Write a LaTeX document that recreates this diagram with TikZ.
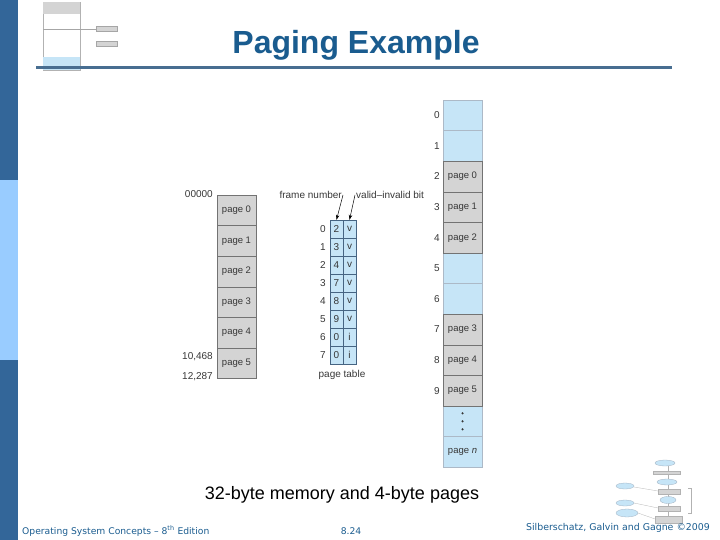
\documentclass[tikz,border=0pt]{standalone}
\usepackage{fontspec}
\setmainfont{Liberation Sans}
\newfontfamily\footfont{DejaVu Sans}
\usetikzlibrary{arrows.meta}
\definecolor{slideblue}{RGB}{51,102,153}
\definecolor{barlight}{RGB}{153,204,255}
\definecolor{titleblue}{RGB}{26,92,143}
\definecolor{rulecol}{RGB}{72,110,145}
\definecolor{cellblue}{RGB}{198,229,247}
\definecolor{cellgray}{RGB}{212,212,212}
\definecolor{edgegray}{RGB}{115,115,115}
\definecolor{edgeblue}{RGB}{70,100,130}
\definecolor{labelgray}{RGB}{55,55,55}
\begin{document}
\begin{tikzpicture}[x=1pt,y=-1pt,
  lbl/.style={font=\fontsize{10}{11}\selectfont, text=labelgray, inner sep=1pt},
  pagecell/.style={draw=edgegray, fill=cellgray, minimum width=39pt, minimum height=30.6pt, inner sep=0pt, font=\fontsize{9.5}{10}\selectfont, text=labelgray},
  freecell/.style={pagecell, fill=cellblue, draw=edgeblue!45},
  ptcell/.style={draw=edgeblue, fill=cellblue, minimum width=13pt, minimum height=18pt, inner sep=0pt, font=\fontsize{10}{11}\selectfont, text=labelgray},
  foot/.style={font=\footfont\fontsize{9.2}{10}\selectfont, text=titleblue, inner sep=0pt}
]
\useasboundingbox (0,0) rectangle (720,540);
% slide frame
\fill[slideblue] (0,0) rectangle (18,180);
\fill[barlight] (0,180) rectangle (18,360);
\fill[slideblue] (0,360) rectangle (18,540);
% thumbnail, top left
\draw[gray!60, line width=0.4pt] (43,2) rectangle (80,70);
\fill[cellgray] (43.2,2.2) rectangle (79.8,14);
\fill[cellblue] (43.2,57) rectangle (79.8,69.8);
\draw[gray!70, line width=0.4pt] (43,29) -- (96,29);
\filldraw[fill=cellgray, draw=gray!70, line width=0.3pt] (96,26) rectangle (117,31);
\filldraw[fill=cellgray, draw=gray!70, line width=0.3pt] (96,41) rectangle (117,46);
% title
\node[font=\bfseries\fontsize{32}{34}\selectfont, text=titleblue] (title) at (356,45) {Paging Example};
\draw[rulecol, line width=3pt] (36,67.5) -- (672,67.5);

% logical memory
\foreach \i in {0,...,5}
  \node[pagecell] (lp\i) at (236.5,{195+30.6*(\i+0.5)}) {page \i};
\node[lbl, anchor=east] (a0) at (214,194) {00000};
\node[lbl, anchor=east] (a1) at (214,357) {10,468};
\node[lbl, anchor=east] (a2) at (214,377) {12,287};

% page table
\foreach \f/\b [count=\r from 0] in {2/v,3/v,4/v,7/v,8/v,9/v,0/i,0/i} {
  \node[ptcell] (f\r) at (336.5,{220+18*(\r+0.5)}) {\f};
  \node[ptcell] (b\r) at (349.5,{220+18*(\r+0.5)}) {\b};
  \node[lbl, anchor=east] (n\r) at ([xshift=-3pt]f\r.west) {\r};
}
\node[lbl] (ptname) at (342,375) {page table};
\node[lbl, anchor=east] (fn) at (343,195) {frame number};
\node[lbl, anchor=west] (vb) at (355,195) {valid–invalid bit};
\draw[-{Stealth[length=5pt,width=3.5pt]}, line width=0.5pt] (fn.east) -- (f0.north);
\draw[-{Stealth[length=5pt,width=3.5pt]}, line width=0.5pt] (vb.west) -- (b0.north);

% physical memory
\foreach \i in {0,1,5,6}
  \node[freecell] (m\i) at (462.5,{100+30.6*(\i+0.5)}) {};
\node[freecell] (mdots) at (462.5,{100+30.6*10.5}) {};
\node[freecell] (mn) at (462.5,{100+30.6*11.5}) {page \textit{n}};
\foreach \i/\p in {2/0,3/1,4/2,7/3,8/4,9/5}
  \node[pagecell] (m\i) at (462.5,{100+30.6*(\i+0.5)}) {page \p};
\foreach \i in {0,...,9}
  \node[lbl, anchor=east] (mf\i) at ([xshift=-2pt]m\i.west) {\i};
\foreach \d in {-8,0,8}
  \fill[labelgray] ([yshift=\d pt]mdots.center) circle (1.2pt);

% caption
\node[font=\fontsize{18}{20}\selectfont] (caption) at (342,495) {32-byte memory and 4-byte pages};

% thumbnail, bottom right
\begin{scope}[line width=0.3pt]
\draw[gray!60] (668,463) -- (668,520);
\draw[gray!60] (634,487) -- (658,491) (634,503) -- (658,508) (638,513) -- (655,519);
\draw[gray!60] (688,488) -- (691,488) -- (691,513) -- (688,513);
\filldraw[fill=cellblue, draw=edgeblue!50] (665,463) ellipse (10pt and 3pt);
\filldraw[fill=cellgray, draw=gray!60] (653,471) rectangle (680,474);
\filldraw[fill=cellblue, draw=edgeblue!50] (667,482) ellipse (10pt and 3pt);
\filldraw[fill=cellblue, draw=edgeblue!50] (625,486) ellipse (9pt and 3pt);
\filldraw[fill=cellgray, draw=gray!60] (658,489) rectangle (680,494);
\filldraw[fill=cellblue, draw=edgeblue!50] (668,500) ellipse (8pt and 3.5pt);
\filldraw[fill=cellblue, draw=edgeblue!50] (625,503) ellipse (9pt and 3pt);
\filldraw[fill=cellgray, draw=gray!60] (658,506) rectangle (680,511);
\filldraw[fill=cellblue, draw=edgeblue!50] (627,513) ellipse (11pt and 4pt);
\filldraw[fill=cellgray, draw=gray!60] (655,516) rectangle (682,523);
\end{scope}

% footer
\node[foot, anchor=west] (edition) at (22,531) {Operating System Concepts – 8\textsuperscript{th} Edition};
\node[foot] (pagenum) at (351,531) {8.24};
\node[foot, anchor=east, font=\footfont\fontsize{9.4}{10}\selectfont] (credit) at (710,528) {Silberschatz, Galvin and Gagne ©2009};
\end{tikzpicture}
\end{document}
